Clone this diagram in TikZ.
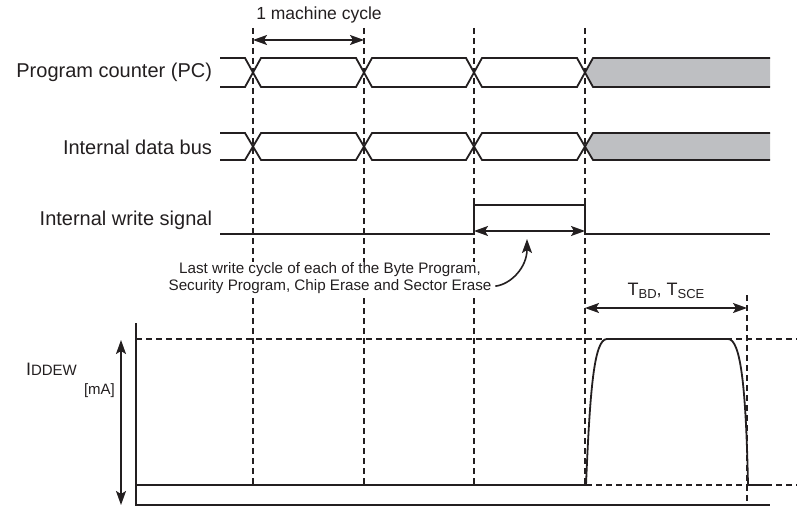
\documentclass[tikz,border=0pt]{standalone}
\usepackage{fontspec}
\setmainfont{Liberation Sans}
\usetikzlibrary{positioning, arrows.meta, calc}
\definecolor{busgray}{RGB}{190,191,194}
\definecolor{inkdark}{RGB}{35,31,32}
\newcommand{\fsz}[1]{\fontsize{#1}{#1}\selectfont}
\newcommand{\lowsub}[1]{\raisebox{-0.3ex}{\fsz{13}#1}}

\begin{document}
\begin{tikzpicture}[
  x=1pt, y=-1pt,
  every node/.style={inner sep=0pt, outer sep=0pt, text=inkdark},
  sig/.style={line width=1.8pt, draw=inkdark, line join=miter},
  axis/.style={line width=1.5pt, draw=inkdark},
  guide/.style={line width=1.4pt, draw=inkdark, dash pattern=on 6pt off 4pt},
  dim/.style={{Stealth[length=14pt,width=10pt,inset=3pt]}-{Stealth[length=14pt,width=10pt,inset=3pt]},
    line width=1.6pt, draw=inkdark, fill=inkdark},
  lbl/.style={font=\fsz{20}, anchor=east},
  note/.style={font=\fsz{15.2}, fill=white, inner sep=1pt},
]
\useasboundingbox (0,0) rectangle (797,508);

% Cycle boundaries
\foreach \n/\x in {a/253, b/364, c/474, d/585, e/747}
  \coordinate (\n) at (\x,0);

% Guides
\foreach \n in {a,b,c,d}
  \draw[guide] ($(\n)+(0,28)$) -- ($(\n)+(0,485)$);
\draw[guide] ($(e)+(0,295)$) -- ($(e)+(0,505)$);
\draw[guide] (136,339) -- (797,339);
\draw[guide] (136,485) -- (797,485);

% Signal labels
\node[lbl] (pc) at (212,72) {Program counter (PC)};
\node[lbl] (db) at (212,147) {Internal data bus};
\node[lbl] (ws) at (212,220) {Internal write signal};

% Buses
\foreach \yt/\yb in {58/87, 133/160} {
  \pgfmathsetmacro\ym{(\yt+\yb)/2}
  \draw[sig] (220,\yt) -- (245,\yt) -- (253,\ym) -- (245,\yb) -- (220,\yb);
  \foreach \xa/\xb in {253/364, 364/474, 474/585}
    \draw[sig] (\xa,\ym) -- (\xa+8,\yt) -- (\xb-8,\yt) -- (\xb,\ym)
      -- (\xb-8,\yb) -- (\xa+8,\yb) -- cycle;
  \fill[busgray] (585,\ym) -- (593,\yt) -- (770,\yt) -- (770,\yb) -- (593,\yb) -- cycle;
  \draw[sig] (770,\yt) -- (593,\yt) -- (585,\ym) -- (593,\yb) -- (770,\yb);
}

% Write signal
\draw[sig] (220,234) -- (c |- 0,234) -- (c |- 0,205) -- (d |- 0,205)
  -- (d |- 0,234) -- (770,234);

% Machine cycle
\node[font=\fsz{17.5}] (mc) at (319,15) {1 machine cycle};
\draw[dim] ($(a)+(0,40)$) -- ($(b)+(0,40)$);

% Last write cycle
\draw[dim] ($(c)+(0,231)$) -- ($(d)+(0,231)$);
\coordinate (wtip) at (527,239);
\node[note] (note1) at (330,270) {Last write cycle of each of the Byte Program,};
\node[note, below=0pt of note1] (note2) {Security Program, Chip Erase and Sector Erase};
\draw[line width=1.6pt, draw=inkdark, -{Stealth[length=14pt,width=10pt,inset=3pt]}]
  ([xshift=3pt]note2.east) .. controls +(16,-2) and +(0,28) .. (wtip);

% Erase time
\node[font=\fsz{18}] (tbd) at (666,291) {T\lowsub{BD}, T\lowsub{SCE}};
\draw[dim] ($(d)+(0,308)$) -- ($(e)+(0,308)$);

% Current axis
\draw[axis] (136,323) -- (136,505) -- (770,505);
\draw[dim] (121,340) -- (121,505);
\node[anchor=base west] (idd) at (26,375) {\fsz{18}I\fsz{15}DDEW};
\node[anchor=base west, font=\fsz{15}] (ma) at (84,394) {[mA]};

% Current waveform
\draw[sig] (136,485) -- (586,485) .. controls (590,390) and (594,339) .. (607,339)
  -- (728,339) .. controls (741,339) and (746,390) .. (748,485) -- (770,485);

\end{tikzpicture}
\end{document}
